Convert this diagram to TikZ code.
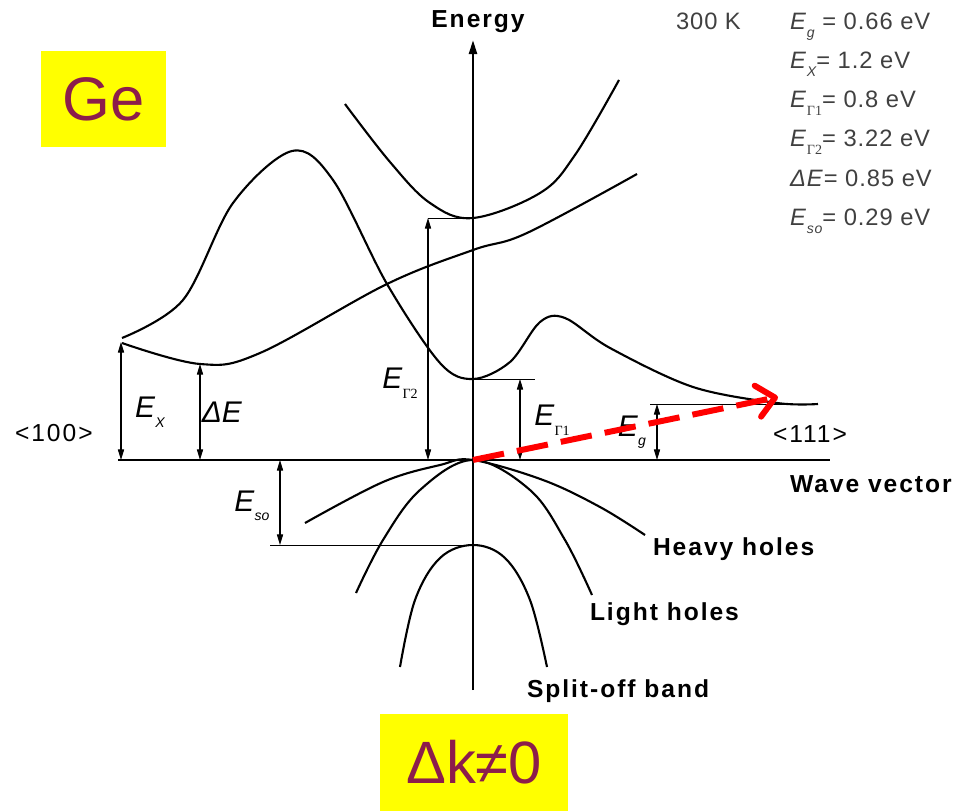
\documentclass[tikz,border=0pt]{standalone}
\usepackage{fontspec}
\setmainfont{Liberation Sans}
\newfontfamily\grfont{Liberation Serif}
\newfontfamily\lblfont[LetterSpace=8]{Liberation Sans}
\newfontfamily\datafont[LetterSpace=4]{Liberation Sans}
\usetikzlibrary{arrows.meta,positioning}
\definecolor{tagyellow}{RGB}{255,255,0}
\definecolor{tagtext}{RGB}{140,29,75}
\definecolor{kred}{RGB}{255,0,0}
\newcommand{\Esub}[1]{\textit{E}\raisebox{-0.6ex}{\footnotesize\itshape #1}}
\newcommand{\EGam}[1]{\textit{E}\raisebox{-0.6ex}{\footnotesize\grfont Γ#1}}

\begin{document}
\begin{tikzpicture}[x=0.02cm,y=-0.02cm,
  every node/.style={inner sep=0pt, outer sep=0pt},
  band/.style={line width=1.2pt, line join=round},
  axis/.style={line width=1.5pt},
  guide/.style={line width=0.5pt},
  dimline/.style={line width=0.6pt, {Triangle[length=6pt,width=3.5pt]}-{Triangle[length=6pt,width=3.5pt]}},
  axlabel/.style={font=\lblfont\bfseries\fontsize{14}{16}\selectfont},
  dirlabel/.style={font=\lblfont\fontsize{14}{16}\selectfont},
  elabel/.style={font=\fontsize{17}{19}\selectfont},
  datalabel/.style={font=\datafont\fontsize{13.5}{15}\selectfont, text=black!75, anchor=base west},
  tag/.style={fill=tagyellow, text=tagtext, inner sep=0pt}]
\useasboundingbox (0,0) rectangle (961,811);

% reference points
\coordinate (G) at (473,460);
\coordinate (top) at (473,40);
\coordinate (bot) at (473,690);
\coordinate (kl) at (118,460);
\coordinate (kr) at (830,460);
\coordinate (X) at (121,342);
\coordinate (Xmin) at (200,364);
\coordinate (G2) at (473,218);
\coordinate (G1) at (473,379);
\coordinate (L) at (818,404);
\coordinate (SO) at (473,545);
\coordinate (ktip) at (778,397);

% axes
\draw[axis, -{Triangle[length=8pt,width=4.5pt]}] (bot) -- (top);
\draw[axis] (kl) -- (kr);

% conduction bands
\draw[band] plot[smooth, tension=0.6] coordinates {(345,104) (390,162) (430,203) (473,218) (540,193) (575,155) (619,80)};
\draw[band] plot[smooth, tension=0.6] coordinates {(122,343) (200,364) (260,353) (387,284) (473,250) (527,233) (637,174)};
\draw[band] plot[smooth, tension=0.55] coordinates {(122,338) (183,300) (233,203) (292,151) (333,180) (387,284) (440,363) (473,379) (510,362) (540,322) (565,318) (610,348) (693,387) (777,403) (818,404)};

% valence bands
\draw[band] plot[smooth, tension=0.6] coordinates {(305,523) (383,482) (440,465) (473,460) (543,480) (600,507) (645,535)};
\draw[band] plot[smooth, tension=0.6] coordinates {(356,593) (383,540) (420,490) (473,460) (530,490) (565,540) (592,595)};
\draw[band] plot[smooth, tension=0.6] coordinates {(400,667) (415,600) (440,558) (473,545) (505,558) (530,600) (547,667)};

% energy gaps
\draw[guide] (428,218) -- (G2);
\draw[guide] (G1) -- (535,379);
\draw[guide] (650,404) -- (L);
\draw[guide] (270,545) -- (SO);
\draw[dimline] (X) -- (X |- G);
\draw[dimline] (Xmin) -- (Xmin |- G);
\draw[dimline] (428,218) -- (428,460);
\draw[dimline] (520,379) -- (520,460);
\draw[dimline] (657,404) -- (657,460);
\draw[dimline] (280,460) -- (280,545);

\node[elabel] (lEX) at (150,412) {\Esub{X}};
\node[elabel] (ldE) at (222,412) {\textit{ΔE}};
\node[elabel] (lEG2) at (400,383) {\EGam{2}};
\node[elabel] (lEG1) at (552,420) {\EGam{1}};
\node[elabel] (lEg) at (632,432) {\Esub{g}};
\node[elabel] (lEso) at (252,506) {\Esub{so}};

% indirect transition
\draw[kred, line width=3.4pt, dash pattern=on 18pt off 7.5pt, -{Straight Barb[length=10pt,width=18pt,round]}] (G) -- (ktip);

% axis and band labels
\node[axlabel, anchor=base] (energy) at (478,28) {Energy};
\node[axlabel, anchor=base west] (wavevec) at (790,492) {Wave vector};
\node[dirlabel, anchor=base west] (dir100) at (15,441) {<100>};
\node[dirlabel, anchor=base west] (dir111) at (773,442) {<111>};
\node[axlabel, anchor=base west] (heavy) at (653,555) {Heavy holes};
\node[axlabel, anchor=base west] (light) at (590,620) {Light holes};
\node[axlabel, anchor=base west] (splitoff) at (527,697) {Split-off band};

% material data
\node[datalabel] (temp) at (676,30) {300 K};
\node[datalabel] (dEg) at (790,30) {\Esub{g} = 0.66 eV};
\node[datalabel] (dEX) at (790,69) {\Esub{X}= 1.2 eV};
\node[datalabel] (dEG1) at (790,108) {\EGam{1}= 0.8 eV};
\node[datalabel] (dEG2) at (790,147) {\EGam{2}= 3.22 eV};
\node[datalabel] (ddE) at (790,187) {\textit{ΔE}= 0.85 eV};
\node[datalabel] (dEso) at (790,226) {\Esub{so}= 0.29 eV};

% tags
\node[tag, minimum width=2.5cm, minimum height=1.92cm, font=\fontsize{35}{40}\selectfont] (ge) at (103.5,99) {Ge};
\node[tag, minimum width=3.76cm, minimum height=1.94cm, font=\fontsize{34}{40}\selectfont] (dk) at (474,762.5) {Δk≠0};
\end{tikzpicture}
\end{document}
